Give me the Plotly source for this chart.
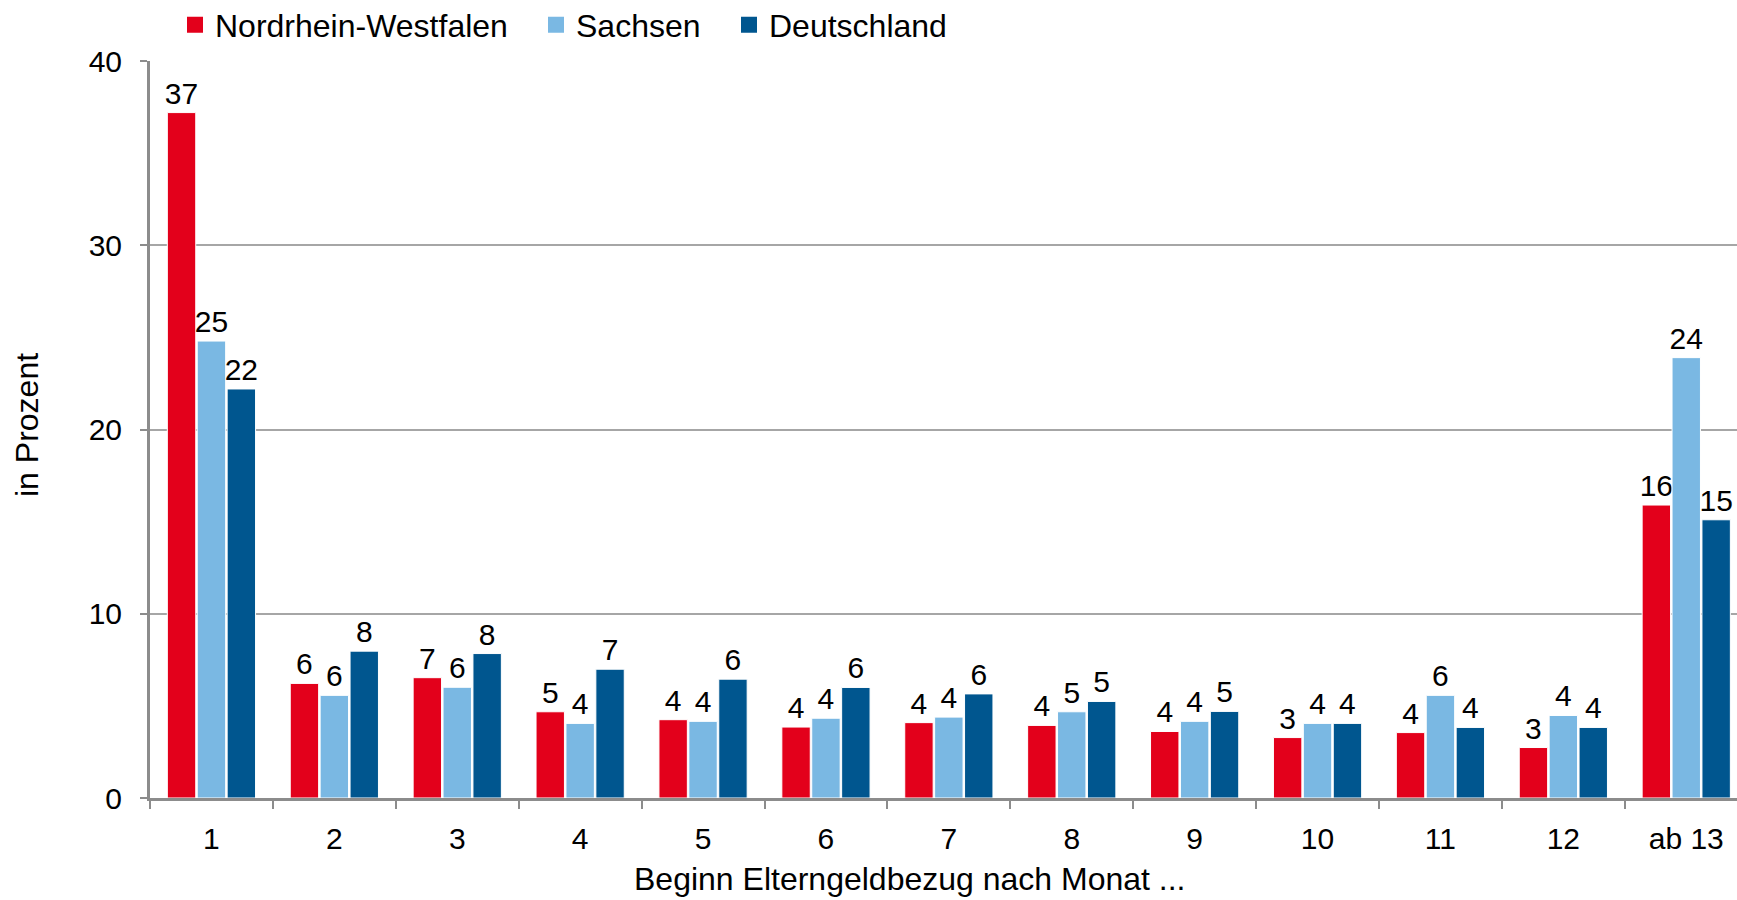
import plotly.graph_objects as go

categories = ["1", "2", "3", "4", "5", "6", "7", "8", "9", "10", "11", "12", "ab 13"]
nrw = [37.2, 6.22, 6.53, 4.68, 4.25, 3.85, 4.09, 3.94, 3.61, 3.28, 3.55, 2.74, 15.9]
sachsen = [24.8, 5.57, 6.01, 4.05, 4.16, 4.33, 4.39, 4.68, 4.16, 4.05, 5.57, 4.48, 23.9]
deutschland = [22.2, 7.97, 7.84, 6.99, 6.45, 6.0, 5.65, 5.24, 4.70, 4.05, 3.83, 3.83, 15.1]

series = [
    ("Nordrhein-Westfalen", nrw, "#E3001B", "legend", 175),
    ("Sachsen", sachsen, "#7AB8E3", "legend2", 536),
    ("Deutschland", deutschland, "#00568F", "legend3", 729),
]

FONT = "Liberation Sans, Arial, sans-serif"

fig = go.Figure()
for name, vals, color, leg, _ in series:
    fig.add_trace(go.Bar(
        x=categories, y=vals, name=name, showlegend=False,
        marker=dict(color=color, line=dict(color="white", width=1)),
        texttemplate="%{y:.0f}", textposition="outside",
        textfont=dict(family=FONT, size=30, color="black"),
        constraintext="none", cliponaxis=False,
    ))
# legend entries (square swatches like the original)
for name, vals, color, leg, _ in series:
    fig.add_trace(go.Scatter(
        x=[None], y=[None], name=name, legend=leg, mode="markers",
        marker=dict(symbol="square", size=17, color=color), showlegend=True,
    ))

W, H = 1737, 900
L, R, T, B = 150, 0, 61, 102
pw, ph = W - L - R, H - T - B
cat_px = 122.9  # pixel width of one category in the reference
x_hi = -0.5 + pw / cat_px

legend_common = dict(orientation="h", xanchor="left", yref="container", xref="container",
                     yanchor="middle", font=dict(family=FONT, size=32, color="black"),
                     itemwidth=30, bgcolor="rgba(0,0,0,0)", borderwidth=0)
legends = {}
for _, _, _, leg, lx in series:
    legends[leg] = dict(legend_common, x=lx / W, y=1 - 25 / H)

fig.update_layout(
    width=W, height=H,
    margin=dict(l=L, r=R, t=T, b=B),
    paper_bgcolor="white", plot_bgcolor="white",
    font=dict(family=FONT, size=30, color="black"),
    barmode="group", bargap=0.27, bargroupgap=0.05,
    showlegend=True,
    **legends,
    xaxis=dict(
        type="category", range=[-0.5, x_hi], showgrid=False, showline=True,
        linecolor="#8C8C8C", linewidth=3, automargin=False,
        ticks="outside", tickson="boundaries", ticklen=8, tickwidth=2, tickcolor="#8C8C8C",
        tickfont=dict(family=FONT, size=30, color="black"), ticklabelstandoff=12,
    ),
    yaxis=dict(
        range=[0, 40], dtick=10, showgrid=True, gridcolor="#A6A6A6", gridwidth=2,
        showline=True, linecolor="#8C8C8C", linewidth=3, zeroline=False, automargin=False,
        ticks="outside", ticklen=7, tickwidth=2, tickcolor="#8C8C8C",
        tickfont=dict(family=FONT, size=30, color="black"), ticklabelstandoff=12,
    ),
    annotations=[
        dict(text="Beginn Elterngeldbezug nach Monat ...", xref="paper", yref="paper",
             x=(909 - L) / pw, y=-(879 - T - ph) / ph, xanchor="center", yanchor="middle",
             showarrow=False, font=dict(family=FONT, size=32, color="black")),
        dict(text="in Prozent", xref="paper", yref="paper", textangle=-90,
             x=-(L - 27) / pw, y=1 - (425 - T) / ph, xanchor="center", yanchor="middle",
             showarrow=False, font=dict(family=FONT, size=32, color="black")),
    ],
)

fig.write_html("out.html", config={"displayModeBar": False},
               post_script="document.body.style.margin='0';document.body.style.overflow='hidden';")
